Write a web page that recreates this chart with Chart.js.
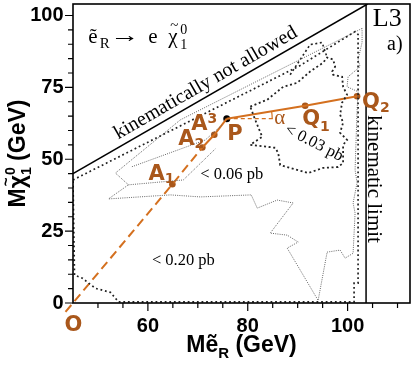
<!DOCTYPE html>
<html><head><meta charset="utf-8">
<script src="https://cdn.jsdelivr.net/npm/chart.js@4.4.1/dist/chart.umd.min.js"></script>
<style>html,body{margin:0;padding:0;background:#fff;overflow:hidden}#wrap{width:415px;height:365px}canvas{display:block}</style>
</head><body><div id="wrap"><canvas id="c" width="415" height="365"></canvas></div>
<script>
// ---- axes ----
const xRange = [45, 112.5];
const yRange = [0, 104];
const xTickLabels = [60, 80, 100];
const yTickLabels = [0, 25, 50, 75, 100];
const minorStep = 5;
const kinematicLimit = 103.7;
const diagonalEnds = [45, 104];

// ---- exclusion contours ----
// < 0.20 pb (outer, coarse dots)
const c020X = [45, 90.5, 101.5, 102.1, 102.1, 101.3, 101.3, 54.1, 52.5, 49.5, 46.9, 45.3, 45];
const c020Y = [42.8, 82.6, 94.4, 93.4, 6.9, 6.9, 0.4, 0.4, 3.7, 5.1, 8.6, 9.7, 42.8];
// < 0.06 pb (fine dots)
const c006X = [102.9, 90.5, 66.5, 53.5, 56.1, 52.1, 64.5, 70.5, 80.7, 81.9, 85.9, 89.1, 84.5, 87.9, 90.1, 87.9, 94.1, 95.9, 98.5, 99.5, 101.1, 101.5, 101.1, 101.9, 101.5, 101.9, 102.1, 99.9, 100.1, 102.5, 102.1, 102.9, 102.9];
const c006Y = [95.5, 84.7, 63.7, 45.2, 41.1, 36.2, 37.6, 36.9, 37.6, 33.0, 35.8, 34.8, 24.3, 23.6, 21.2, 19.1, 0.9, 17.7, 18.4, 15.6, 17.3, 31.3, 34.8, 41.8, 46.3, 67.2, 73.5, 75.2, 78.7, 82.2, 84.7, 90.6, 95.5];
const fineInner1X = [56.1, 67.1, 73.5];
const fineInner1Y = [41.1, 42.8, 53.6];
const fineInner2X = [56.8, 71.5, 74.9];
const fineInner2Y = [47.4, 56.7, 62.0];
// < 0.03 pb (coarse dots)
const c003X = [80.5, 83.9, 87.1, 89.9, 92.5, 95.1, 95.9, 97.1, 97.5, 96.9, 97.1, 98.9, 99.1, 99.9, 98.9, 98.5, 99.1, 98.5, 99.9, 99.1, 99.1, 98.1, 95.1, 92.1, 88.5, 86.5, 86.1, 85.5, 80.5, 82.9, 81.5, 80.5];
const c003Y = [68.3, 70.7, 75.2, 76.6, 80.5, 83.6, 85.4, 84.7, 82.2, 80.5, 79.4, 78.7, 75.2, 72.4, 69.7, 65.5, 62.7, 59.2, 56.7, 55.0, 48.7, 47.3, 47.0, 45.2, 47.0, 48.0, 52.2, 54.0, 55.0, 57.8, 63.7, 68.3];
const coarseUpperX = [88.5, 92.5, 94.9, 95.7, 95.9];
const coarseUpperY = [79.4, 89.9, 90.6, 86.4, 85.4];

// ---- scan path markers ----
const markerNames = ['O', 'A1', 'A2', 'A3', 'P', 'Q1', 'Q2'];
const markerX = [43.5, 64.9, 70.9, 73.3, 75.8, 91.5, 101.9];
const markerY = [-3.1, 41.3, 54.1, 58.5, 64.1, 68.6, 71.9];
const alphaLineEndX = 85.1;

// ---- texts ----
const txtKinNot = 'kinematically not allowed';
const txtKinLim = 'kinematic limit';
const txt006 = '< 0.06 pb';
const txt020 = '< 0.20 pb';
const txt003 = '< 0.03 pb';
const txtExp = 'L3';
const txtPanel = 'a)';

const pts = (xs, ys) => xs.map((x, i) => ({x: x, y: ys[i]}));
const idx = n => markerNames.indexOf(n);
const mk = n => ({x: markerX[idx(n)], y: markerY[idx(n)]});

const LINE_OR = '#d4701f';
const TEXT_OR = '#a9571b';
const SERIF = '"Liberation Serif", "DejaVu Serif", serif';
const SANS = '"Liberation Sans", Arial, sans-serif';
const LABF = '"DejaVu Sans", sans-serif';

const base = {showLine: true, fill: false, pointRadius: 0, tension: 0};
const datasets = [
  Object.assign({}, base, {data: pts(diagonalEnds, diagonalEnds), borderColor: '#000', borderWidth: 1.5}),
  Object.assign({}, base, {data: [{x: kinematicLimit, y: yRange[0]}, {x: kinematicLimit, y: yRange[1]}], borderColor: '#000', borderWidth: 1.5}),
  Object.assign({}, base, {data: pts(c020X, c020Y), borderColor: '#222', borderWidth: 1.7, borderDash: [1.8, 2.8]}),
  Object.assign({}, base, {data: pts(c006X, c006Y), borderColor: '#666', borderWidth: 1, borderDash: [1, 1.2]}),
  Object.assign({}, base, {data: pts(fineInner1X, fineInner1Y), borderColor: '#666', borderWidth: 1, borderDash: [1, 1.2]}),
  Object.assign({}, base, {data: pts(fineInner2X, fineInner2Y), borderColor: '#666', borderWidth: 1, borderDash: [1, 1.2]}),
  Object.assign({}, base, {data: pts(c003X, c003Y), borderColor: '#222', borderWidth: 1.8, borderDash: [2, 2.6]}),
  Object.assign({}, base, {data: pts(coarseUpperX, coarseUpperY), borderColor: '#222', borderWidth: 1.6, borderDash: [2, 2.6]}),
  Object.assign({}, base, {data: [mk('O'), mk('A1'), mk('A2')], borderColor: LINE_OR, borderWidth: 2, borderDash: [9, 5], clip: false}),
  Object.assign({}, base, {data: [mk('A2'), mk('A3'), mk('P')], borderColor: LINE_OR, borderWidth: 2}),
  Object.assign({}, base, {data: [mk('P'), mk('Q1'), mk('Q2')], borderColor: LINE_OR, borderWidth: 2}),
  Object.assign({}, base, {data: [mk('P'), {x: alphaLineEndX, y: markerY[idx('P')]}], borderColor: LINE_OR, borderWidth: 1.2, borderDash: [4, 3]}),
  {data: pts(markerX, markerY), showLine: false, clip: false,
   pointRadius: markerNames.map(n => n === 'P' ? 3.5 : 3.3),
   pointBackgroundColor: markerNames.map(n => n === 'P' ? '#000' : TEXT_OR),
   pointBorderWidth: 0}
];

function txt(ctx, s, x, y, font, color, align, rot, sx) {
  ctx.save(); ctx.translate(x, y); if (rot) ctx.rotate(rot); if (sx) ctx.scale(sx, 1);
  ctx.font = font; ctx.fillStyle = color; ctx.textAlign = align || 'left';
  ctx.textBaseline = 'alphabetic';
  ctx.fillText(s, 0, 0);
  const w = ctx.measureText(s).width * (sx || 1); ctx.restore(); return w;
}

const decor = {
  id: 'decor',
  afterDatasetsDraw(chart) {
    const ctx = chart.ctx, xs = chart.scales.x, ys = chart.scales.y, a = chart.chartArea;
    const X = v => xs.getPixelForValue(v), Y = v => ys.getPixelForValue(v);
    ctx.save();
    // frame
    ctx.strokeStyle = '#000'; ctx.lineWidth = 1.6; ctx.setLineDash([]);
    ctx.strokeRect(a.left, a.top, a.right - a.left, a.bottom - a.top);
    // ticks (outside)
    ctx.lineWidth = 1.2;
    ctx.beginPath();
    for (let v = xRange[0] + minorStep; v < xRange[1]; v += minorStep) {
      const len = xTickLabels.includes(v) ? 8 : 5;
      ctx.moveTo(X(v), a.bottom); ctx.lineTo(X(v), a.bottom + len);
    }
    for (let v = yRange[0]; v <= yRange[1]; v += minorStep) {
      const len = yTickLabels.includes(v) ? 8 : 5;
      ctx.moveTo(a.left, Y(v)); ctx.lineTo(a.left - len, Y(v));
    }
    ctx.stroke();

    // alpha arc
    const P = mk('P'), Q1 = mk('Q1');
    const px = X(P.x), py = Y(P.y);
    const ang = Math.atan2(Y(Q1.y) - py, X(Q1.x) - px);
    const r = X(alphaLineEndX) - px - 1;
    ctx.strokeStyle = LINE_OR; ctx.lineWidth = 1.2;
    ctx.beginPath(); ctx.arc(px, py, r, ang, 0); ctx.stroke();

    // serif annotations
    const diagAng = Math.atan2(Y(100) - Y(50), X(100) - X(50));
    txt(ctx, txtKinNot, X(72.1), Y(74.9), '20px ' + SERIF, '#000', 'center', diagAng);
    txt(ctx, txtKinLim, X(104.06), Y(43.1), '21px ' + SERIF, '#000', 'center', Math.PI / 2);
    txt(ctx, txtExp, X(105.06), Y(96.2), '26px ' + SERIF, '#000', 'left');
    txt(ctx, txtPanel, X(107.9), Y(88.1), '20px ' + SERIF, '#000', 'left');
    txt(ctx, txt006, X(70.5), Y(43.1), '16.5px ' + SERIF, '#000', 'left');
    txt(ctx, txt020, X(60.8), Y(13.1), '16.5px ' + SERIF, '#000', 'left');
    txt(ctx, txt003, X(92.9), Y(54.3), '16.5px ' + SERIF, '#000', 'center', 27 * Math.PI / 180);

    // reaction formula
    const fx = X(48.06), fy = Y(90.5);
    txt(ctx, '\u1EBD', fx, fy, '21px ' + SERIF, '#000');
    txt(ctx, 'R', fx + 11.5, fy + 5, '15px ' + SERIF, '#000');
    txt(ctx, '\u2192', fx + 22, fy - 1, '21px ' + SERIF, '#000', 'left', 0, 1.4);
    txt(ctx, 'e', fx + 60, fy, '21px ' + SERIF, '#000');
    txt(ctx, '\u03C7', fx + 80, fy, '21px ' + SERIF, '#000');
    txt(ctx, '~', fx + 82, fy - 13, '15px ' + SERIF, '#000');
    txt(ctx, '0', fx + 92, fy - 9, '14px ' + SERIF, '#000');
    txt(ctx, '1', fx + 92, fy + 6, '14px ' + SERIF, '#000');

    // orange labels
    const big = 'bold 21px ' + LABF, small = 'bold 14px ' + LABF;
    txt(ctx, 'O', X(45.1), Y(-9.9), big, TEXT_OR, 'center');
    const lab = (letter, sub, dx, dy, subDy) => {
      const w = txt(ctx, letter, X(dx), Y(dy), big, TEXT_OR, 'left');
      txt(ctx, sub, X(dx) + w, Y(dy) + subDy, small, TEXT_OR, 'left');
    };
    lab('A', '1', 60.1, 42.8, 3);
    lab('A', '2', 66.1, 55.0, 3);
    lab('A', '3', 68.7, 60.2, -7);
    txt(ctx, 'P', X(75.9), Y(56.8), big, TEXT_OR, 'left');
    lab('Q', '1', 90.9, 62.0, 6);
    lab('Q', '2', 102.9, 67.9, 4);
    txt(ctx, '\u03B1', X(85.3), Y(62.4), '21px ' + SERIF, TEXT_OR, 'left');
    ctx.restore();
  },
  afterDraw(chart) {
    const ctx = chart.ctx, a = chart.chartArea;
    const B = 'bold 23px ' + SANS, S = 'bold 15px ' + SANS, S2 = 'bold 14px ' + SANS;
    ctx.save();
    // x title
    ctx.font = B; const wM = ctx.measureText('M').width, wE = ctx.measureText('\u1EBD').width, wG = ctx.measureText(' (GeV)').width;
    ctx.font = S; const wR = ctx.measureText('R').width;
    let x0 = (a.left + a.right) / 2 - (wM + wE + wR + wG) / 2; const yb = 352;
    txt(ctx, 'M', x0, yb, B, '#000'); x0 += wM;
    txt(ctx, '\u1EBD', x0, yb, B, '#000'); x0 += wE;
    txt(ctx, 'R', x0, yb + 6, S, '#000'); x0 += wR;
    txt(ctx, ' (GeV)', x0, yb, B, '#000');
    // y title (rotated)
    ctx.font = B; const wC = ctx.measureText('\u03C7').width;
    ctx.font = S2; const wS = ctx.measureText('0').width;
    const total = wM + wC + wS + wG;
    ctx.translate(25, (a.top + a.bottom) / 2 + total / 2);
    ctx.rotate(-Math.PI / 2);
    let t = 0;
    txt(ctx, 'M', t, 0, B, '#000'); t += wM;
    txt(ctx, '\u03C7', t, 0, B, '#000');
    txt(ctx, '~', t + 2, -14, 'bold 15px ' + SANS, '#000'); t += wC;
    txt(ctx, '0', t, -10, S2, '#000');
    txt(ctx, '1', t, 6, S2, '#000'); t += wS;
    txt(ctx, ' (GeV)', t, 0, B, '#000');
    ctx.restore();
  }
};

const noPad = s => { s.paddingTop = 0; s.paddingBottom = 0; s.paddingLeft = 0; s.paddingRight = 0; };

new Chart(document.getElementById('c'), {
  type: 'scatter',
  data: {datasets: datasets},
  options: {
    responsive: false, animation: false, devicePixelRatio: 1,
    layout: {padding: {top: 4, right: 5, left: 0, bottom: 0}},
    plugins: {legend: {display: false}, tooltip: {enabled: false}},
    scales: {
      x: {type: 'linear', min: xRange[0], max: xRange[1],
          afterBuildTicks: s => { s.ticks = xTickLabels.map(v => ({value: v})); },
          afterFit: s => { s.height = 62; noPad(s); },
          grid: {display: false, drawTicks: false}, border: {display: false},
          ticks: {font: {family: SANS, size: 20, weight: 'bold'}, color: '#000', padding: 11, maxRotation: 0, autoSkip: false}},
      y: {type: 'linear', min: yRange[0], max: yRange[1],
          afterBuildTicks: s => { s.ticks = yTickLabels.map(v => ({value: v})); },
          afterFit: s => { s.width = 73; noPad(s); },
          grid: {display: false, drawTicks: false}, border: {display: false},
          ticks: {font: {family: SANS, size: 20, weight: 'bold'}, color: '#000', padding: 9.5, autoSkip: false}}
    }
  },
  plugins: [decor]
});
</script></body></html>
